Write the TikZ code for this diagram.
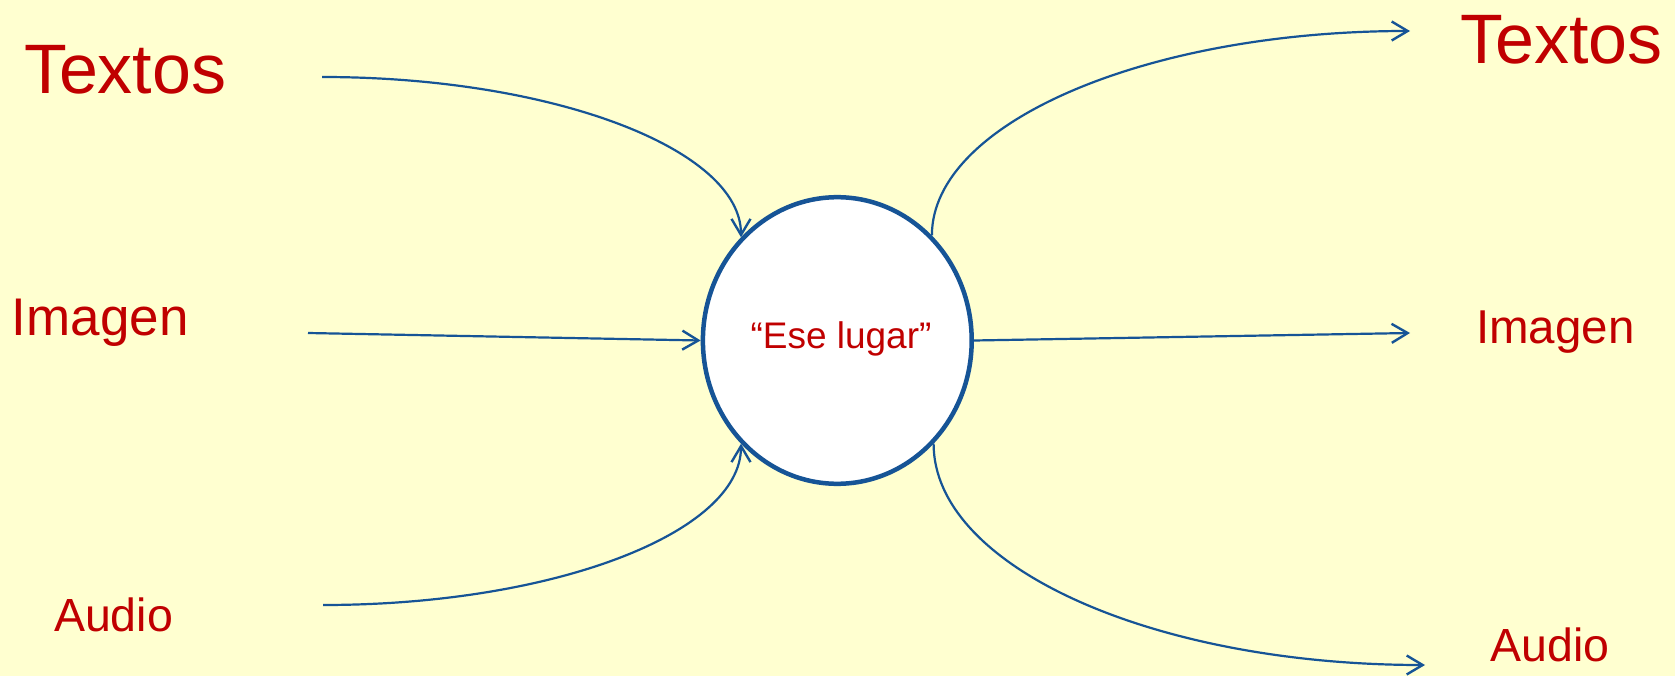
\documentclass[tikz,border=0pt]{standalone}
\usepackage{fontspec}
\setmainfont{Liberation Sans}
\usetikzlibrary{arrows.meta,shapes.geometric}
\definecolor{bgyellow}{RGB}{255,255,208}
\definecolor{txtred}{RGB}{192,0,0}
\definecolor{lineblue}{RGB}{22,84,150}
\tikzset{
  lbl/.style={text=txtred, inner sep=0pt, outer sep=0pt, anchor=base west},
  conn/.style={draw=lineblue, line width=2.2pt,
    -{Straight Barb[length=16pt,width=19pt,line width=2.4pt]}},
  hub/.style={ellipse, draw=lineblue, fill=white, line width=4.5pt,
    inner sep=0pt, minimum width=268.8pt, minimum height=286.6pt}
}
\begin{document}
\begin{tikzpicture}[x=1pt,y=-1pt]
\fill[bgyellow] (0,0) rectangle (1675,676);
\useasboundingbox (0,0) rectangle (1675,676);

% central node
\node[hub] (c) at (837.3,340.5) {};
\node[text=txtred, inner sep=0pt, anchor=base, font=\fontsize{37}{42}\selectfont] (place) at (841,348.3) {“Ese lugar”};

% left labels
\node[lbl, font=\fontsize{70}{80}\selectfont] (tl) at (24,93.3) {Textos};
\node[lbl, font=\fontsize{53}{60}\selectfont] (il) at (12,335) {Imagen};
\node[lbl, font=\fontsize{46.5}{52}\selectfont] (al) at (54,631.7) {Audio};

% right labels
\node[lbl, font=\fontsize{70}{80}\selectfont] (tr) at (1460,63.3) {Textos};
\node[lbl, font=\fontsize{47.5}{52}\selectfont] (ir) at (1476,343.3) {Imagen};
\node[lbl, font=\fontsize{46.5}{52}\selectfont] (ar) at (1490.5,661.7) {Audio};

% connector end points
\coordinate (s1) at (322,77);
\coordinate (s2) at (308,333);
\coordinate (s3) at (323,605);
\coordinate (e4) at (1410,31);
\coordinate (e5) at (1410,333);
\coordinate (e6) at (1425,665);

% incoming
\draw[conn] (s1) .. controls +(231,0) and +(0,-88) .. (c.133);
\draw[conn] (s2) -- (c.west);
\draw[conn] (s3) .. controls +(231,0) and +(0,89) .. (c.227);

% outgoing
\draw[conn] (c.48) .. controls +(0,-113) and +(-263,0) .. (e4);
\draw[conn] (c.east) -- (e5);
\draw[conn] (c.313) .. controls +(0,123) and +(-272,0) .. (e6);
\end{tikzpicture}
\end{document}
